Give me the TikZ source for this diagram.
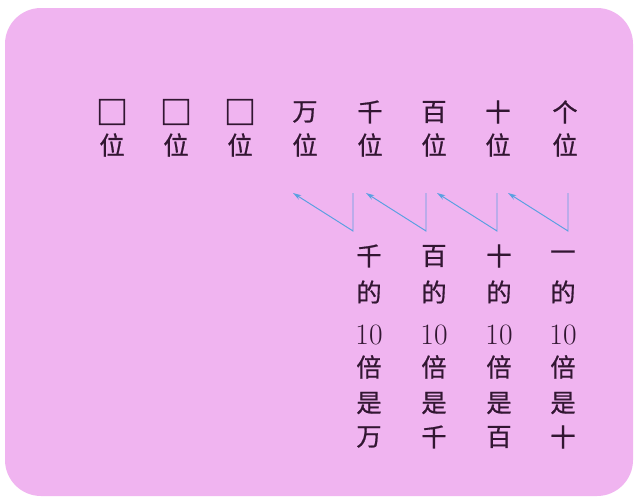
\documentclass[tikz,border=0pt]{standalone}
\usepackage{fontspec}
\newfontfamily\cjk[FakeBold=0.6]{Noto Sans CJK SC}
\usetikzlibrary{arrows.meta}
\definecolor{bgpink}{RGB}{240,180,240}
\definecolor{ink}{RGB}{50,22,50}
\definecolor{arrowblue}{RGB}{90,160,225}
\begin{document}
\begin{tikzpicture}[x=0.025cm,y=-0.025cm,
  ch/.style={font=\cjk\fontsize{18}{18}\selectfont, text=ink, inner sep=0pt, anchor=center},
  boxch/.style={font=\cjk\fontsize{23}{23}\selectfont, text=ink, inner sep=0pt, anchor=center},
  num/.style={font=\fontsize{21}{21}\selectfont, text=ink, inner sep=0pt, anchor=center},
  arr/.style={draw=arrowblue, line width=0.7pt, -{Stealth[length=6pt,width=3.6pt]}}]
\useasboundingbox (0,0) rectangle (640,500);
\fill[white] (0,0) rectangle (640,500);
\fill[bgpink, rounded corners=0.9cm] (5,8) rectangle (633,496);
% top rows
\node[boxch] (t1) at (112,112) {□};
\node[boxch] (t2) at (176,112) {□};
\node[boxch] (t3) at (240,112) {□};
\node[ch] (t4) at (305,112) {万};
\node[ch] (t5) at (370,112) {千};
\node[ch] (t6) at (434,112) {百};
\node[ch] (t7) at (498,112) {十};
\node[ch] (t8) at (565,112) {个};
\foreach \i/\x in {1/112,2/176,3/240,4/305,5/370,6/434,7/498,8/565}
  \node[ch] (w\i) at (\x,145) {位};
% arrows
\foreach \i/\x in {1/353,2/426,3/497,4/568}{
  \coordinate (top\i) at (\x,193);
  \coordinate (bot\i) at (\x,231);
  \coordinate (tip\i) at ({\x-60},193);
  \draw[arr] (top\i) -- (bot\i) -- (tip\i);
}
% bottom columns
\foreach \i/\x/\a/\b in {1/369/千/万,2/434/百/千,3/499/十/百,4/563/一/十}{
  \node[ch] (a\i) at (\x,256) {\a};
  \node[ch] (d\i) at (\x,292) {的};
  \node[num] (n\i) at (\x,335) {10};
  \node[ch] (p\i) at (\x,367) {倍};
  \node[ch] (s\i) at (\x,403) {是};
  \node[ch] (r\i) at (\x,437) {\b};
}
\end{tikzpicture}
\end{document}
